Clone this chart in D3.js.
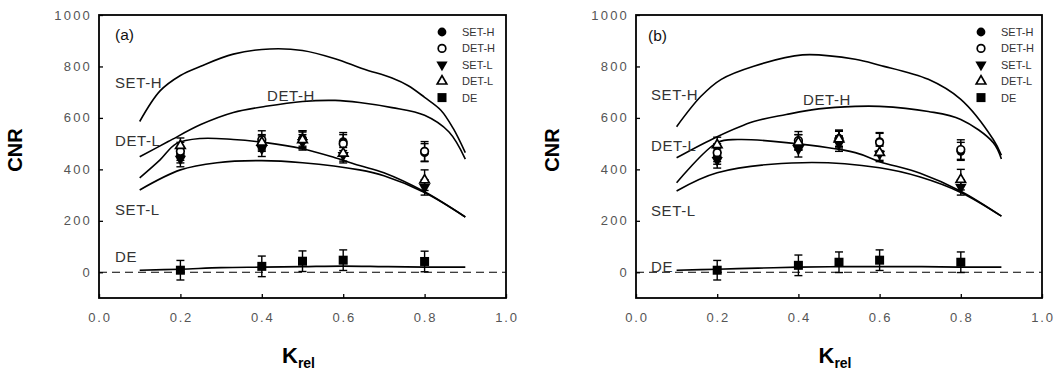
<!DOCTYPE html>
<html><head><meta charset="utf-8">
<script src="https://cdn.jsdelivr.net/npm/d3@7"></script>
<style>body{margin:0;background:#fff}svg{display:block}</style>
</head><body>
<svg id="c" width="1055" height="373"></svg>
<script>
// ---------- data ----------
const xTicks = [0.0, 0.2, 0.4, 0.6, 0.8, 1.0];
const yTicks = [0, 200, 400, 600, 800, 1000];
const seriesNames = ["SET-H", "DET-H", "SET-L", "DET-L", "DE"];
const xPts = [0.2, 0.4, 0.5, 0.6, 0.8];

// panel (a) measured points
const a_SETH = [455, 500, 520, 508, 465];
const a_SETH_err = [30, 30, 30, 35, 35];
const a_DETH = [470, 515, 515, 500, 470];
const a_DETH_err = [35, 35, 30, 35, 38];
const a_SETL = [440, 480, 505, 455, 330];
const a_SETL_err = [30, 30, 30, 30, 30];
const a_DETL = [492, 505, 515, 462, 358];
const a_DETL_err = [30, 30, 35, 30, 40];
const a_DE = [8, 23, 43, 47, 42];
const a_DE_err = [38, 40, 40, 40, 40];

// panel (b) measured points
const b_SETH = [450, 505, 520, 508, 470];
const b_SETH_err = [30, 30, 30, 35, 35];
const b_DETH = [465, 512, 518, 505, 477];
const b_DETH_err = [35, 35, 30, 35, 38];
const b_SETL = [435, 478, 500, 460, 330];
const b_SETL_err = [30, 30, 30, 30, 30];
const b_DETL = [495, 505, 518, 465, 360];
const b_DETL_err = [30, 30, 35, 30, 40];
const b_DE = [8, 27, 39, 47, 39];
const b_DE_err = [38, 40, 40, 40, 40];

// theoretical curves panel (a)
const a_cSETH_x = [0.1, 0.15, 0.2, 0.25, 0.33, 0.42, 0.5, 0.58, 0.65, 0.72, 0.76, 0.8, 0.84, 0.87, 0.9];
const a_cSETH_y = [586, 705, 765, 801, 848, 868, 862, 830, 790, 755, 725, 680, 630, 560, 465];
const a_cDETH_x = [0.1, 0.17, 0.25, 0.33, 0.41, 0.5, 0.58, 0.64, 0.72, 0.8, 0.86, 0.9];
const a_cDETH_y = [449, 508, 574, 621, 645, 664, 668, 660, 640, 610, 545, 440];
const a_cDETL_x = [0.1, 0.15, 0.19, 0.25, 0.33, 0.41, 0.5, 0.58, 0.64, 0.7, 0.8, 0.9];
const a_cDETL_y = [367, 437, 500, 520, 516, 504, 480, 445, 415, 387, 313, 215];
const a_cSETL_x = [0.1, 0.2, 0.29, 0.4, 0.5, 0.64, 0.7, 0.8, 0.9];
const a_cSETL_y = [320, 398, 426, 434, 426, 398, 375, 310, 215];
const a_cDE_x = [0.1, 0.2, 0.3, 0.4, 0.5, 0.6, 0.7, 0.8, 0.9];
const a_cDE_y = [8, 12, 18, 20, 22, 24, 22, 20, 20];

// theoretical curves panel (b)
const b_cSETH_x = [0.1, 0.16, 0.21, 0.29, 0.41, 0.54, 0.6, 0.72, 0.8, 0.88, 0.9];
const b_cSETH_y = [566, 684, 750, 801, 845, 828, 805, 750, 672, 516, 455];
const b_cDETH_x = [0.1, 0.2, 0.29, 0.37, 0.45, 0.54, 0.6, 0.72, 0.8, 0.88, 0.9];
const b_cDETH_y = [445, 527, 586, 613, 635, 645, 645, 625, 594, 504, 440];
const b_cDETL_x = [0.1, 0.2, 0.25, 0.37, 0.54, 0.6, 0.7, 0.8, 0.9];
const b_cDETL_y = [348, 504, 516, 504, 465, 430, 385, 315, 218];
const b_cSETL_x = [0.1, 0.2, 0.41, 0.6, 0.7, 0.8, 0.9];
const b_cSETL_y = [316, 387, 426, 406, 370, 310, 218];
const b_cDE_x = [0.1, 0.2, 0.3, 0.4, 0.5, 0.6, 0.7, 0.8, 0.9];
const b_cDE_y = [8, 12, 16, 20, 22, 22, 22, 20, 20];

// ---------- drawing ----------
const svg = d3.select("#c");
const font = "Arial, 'Liberation Sans', sans-serif";

const panels = [
  {tag: "(a)", left: 99, right: 506,
   pts: [[a_SETH, a_SETH_err], [a_DETH, a_DETH_err], [a_SETL, a_SETL_err], [a_DETL, a_DETL_err], [a_DE, a_DE_err]],
   curves: [[a_cSETH_x, a_cSETH_y], [a_cDETH_x, a_cDETH_y], [a_cDETL_x, a_cDETL_y], [a_cSETL_x, a_cSETL_y], [a_cDE_x, a_cDE_y]],
   labels: [["SET-H", 115, 88], ["DET-H", 267, 101], ["DET-L", 115, 146], ["SET-L", 115, 215], ["DE", 115, 262]],
   tagPos: [115, 40], legX: 442},
  {tag: "(b)", left: 636, right: 1042,
   pts: [[b_SETH, b_SETH_err], [b_DETH, b_DETH_err], [b_SETL, b_SETL_err], [b_DETL, b_DETL_err], [b_DE, b_DE_err]],
   curves: [[b_cSETH_x, b_cSETH_y], [b_cDETH_x, b_cDETH_y], [b_cDETL_x, b_cDETL_y], [b_cSETL_x, b_cSETL_y], [b_cDE_x, b_cDE_y]],
   labels: [["SET-H", 651, 100], ["DET-H", 803, 105], ["DET-L", 651, 151], ["SET-L", 651, 216], ["DE", 651, 272]],
   tagPos: [648, 41], legX: 981}
];

const plotTop = 15, plotBottom = 298;

function marker(g, type, x, y) {
  if (type === 0) { // filled circle
    g.append("circle").attr("cx", x).attr("cy", y).attr("r", 4.4).attr("fill", "#000");
  } else if (type === 1) { // open circle
    g.append("circle").attr("cx", x).attr("cy", y).attr("r", 3.8).attr("fill", "#fff").attr("stroke", "#000").attr("stroke-width", 1.7);
  } else if (type === 2) { // filled down triangle
    g.append("path").attr("d", d3.symbol(d3.symbolTriangle, 55)()).attr("transform", `translate(${x},${y}) rotate(180)`).attr("fill", "#000");
  } else if (type === 3) { // open up triangle
    g.append("path").attr("d", d3.symbol(d3.symbolTriangle, 40)()).attr("transform", `translate(${x},${y})`).attr("fill", "#fff").attr("stroke", "#000").attr("stroke-width", 1.7);
  } else { // filled square
    g.append("rect").attr("x", x - 4.5).attr("y", y - 4.5).attr("width", 9).attr("height", 9).attr("fill", "#000");
  }
}

panels.forEach(p => {
  const x = d3.scaleLinear().domain([0, 1]).range([p.left, p.right]);
  const y = d3.scaleLinear().domain([-100, 1000]).range([plotBottom, plotTop]);
  const g = svg.append("g");

  // dashed zero line
  g.append("line").attr("x1", x(0)).attr("x2", x(1)).attr("y1", y(0)).attr("y2", y(0))
    .attr("stroke", "#000").attr("stroke-width", 1.2).attr("stroke-dasharray", "8,5");

  // curves
  const line = d3.line().x(d => x(d[0])).y(d => y(d[1])).curve(d3.curveCatmullRom.alpha(0.5));
  p.curves.forEach(c => {
    const data = c[0].map((v, i) => [v, c[1][i]]);
    g.append("path").attr("d", line(data)).attr("fill", "none").attr("stroke", "#000").attr("stroke-width", 1.6);
  });

  // points with error bars
  p.pts.forEach(s => {
    const vals = s[0], errs = s[1];
    vals.forEach((v, i) => {
      const cx = x(xPts[i]);
      const y1 = y(v + errs[i]), y2 = y(v - errs[i]);
      g.append("line").attr("x1", cx).attr("x2", cx).attr("y1", y1).attr("y2", y2).attr("stroke", "#000").attr("stroke-width", 1.4);
      [y1, y2].forEach(yy => g.append("line").attr("x1", cx - 4).attr("x2", cx + 4).attr("y1", yy).attr("y2", yy).attr("stroke", "#000").attr("stroke-width", 1.4));
    });
  });
  p.pts.forEach((s, k) => {
    s[0].forEach((v, i) => marker(g, k, x(xPts[i]), y(v)));
  });

  // frame
  g.append("rect").attr("x", p.left).attr("y", plotTop).attr("width", p.right - p.left).attr("height", plotBottom - plotTop)
    .attr("fill", "none").attr("stroke", "#000").attr("stroke-width", 1.8);

  // axes ticks (inward)
  const xa = g.append("g").attr("transform", `translate(0,${plotBottom})`)
    .call(d3.axisTop(x).tickValues(xTicks).tickSize(4).tickFormat(""));
  xa.select(".domain").remove();
  xa.selectAll("line").attr("stroke-width", 1.3);
  const ya = g.append("g").attr("transform", `translate(${p.left},0)`)
    .call(d3.axisRight(y).tickValues(yTicks).tickSize(4).tickFormat(""));
  ya.select(".domain").remove();
  ya.selectAll("line").attr("stroke-width", 1.3);

  // tick labels
  xTicks.forEach(t => g.append("text").attr("x", x(t) + 1).attr("y", 322).attr("text-anchor", "middle")
    .attr("font-family", font).attr("font-size", 13).attr("letter-spacing", 1.8).attr("fill", "#555").text(d3.format(".1f")(t)));
  yTicks.forEach(t => g.append("text").attr("x", p.left - 7).attr("y", y(t) + 4.5).attr("text-anchor", "end")
    .attr("font-family", font).attr("font-size", 13).attr("letter-spacing", 2.2).attr("fill", "#555").text(t));

  // axis titles
  const cxp = (p.left + p.right) / 2;
  const xt = g.append("text").attr("x", cxp - 4).attr("y", 363).attr("text-anchor", "middle")
    .attr("font-family", font).attr("font-weight", "bold").attr("fill", "#000");
  xt.append("tspan").attr("font-size", 22).text("K");
  xt.append("tspan").attr("font-size", 14).attr("dy", 5).text("rel");
  g.append("text").attr("transform", `translate(${p.left - 77},${150}) rotate(-90)`).attr("text-anchor", "middle")
    .attr("font-family", font).attr("font-weight", "bold").attr("font-size", 20).attr("fill", "#000").text("CNR");

  // curve labels
  p.labels.forEach(l => g.append("text").attr("x", l[1]).attr("y", l[2]).attr("font-family", font)
    .attr("font-size", 15).attr("letter-spacing", 0.6).attr("fill", "#333").text(l[0]));
  g.append("text").attr("x", p.tagPos[0]).attr("y", p.tagPos[1]).attr("font-family", font)
    .attr("font-size", 15.5).attr("fill", "#111").text(p.tag);

  // legend
  seriesNames.forEach((n, k) => {
    const ly = 32 + k * 16.4;
    marker(g, k, p.legX, ly);
    g.append("text").attr("x", p.legX + 20).attr("y", ly + 4).attr("font-family", font)
      .attr("font-size", 11).attr("fill", "#333").text(n);
  });
});
</script>
</body></html>
